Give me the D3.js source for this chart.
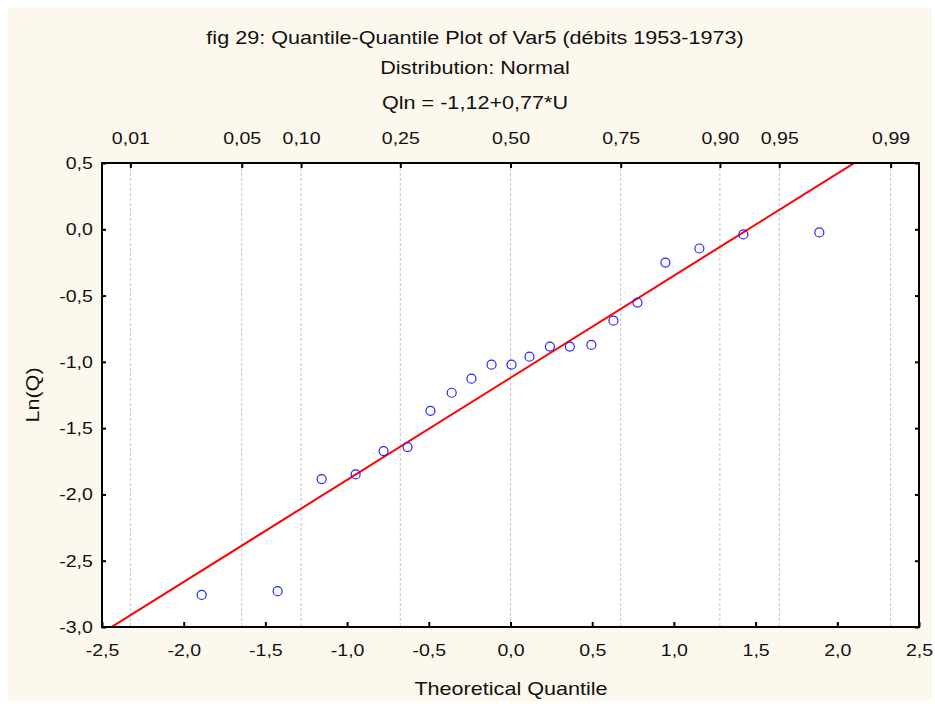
<!DOCTYPE html>
<html>
<head>
<meta charset="utf-8">
<script src="https://cdn.jsdelivr.net/npm/d3@7"></script>
<style>
	body { margin: 0; background: #fff; }
	text { font-family: Arial, "Liberation Sans", sans-serif; fill: #111; }
</style>
</head>
<body>
<div id="chart"></div>
<script>
// data
var theoretical = [-1.89, -1.425, -1.156, -0.948, -0.777, -0.63, -0.49, -0.36, -0.239, -0.116, 0.006,
	0.116, 0.241, 0.363, 0.495, 0.63, 0.777, 0.948, 1.156, 1.425, 1.89];
var lnQ = [-2.758, -2.730, -1.884, -1.849, -1.673, -1.643, -1.369, -1.233, -1.127, -1.021, -1.021,
	-0.961, -0.885, -0.885, -0.872, -0.689, -0.553, -0.251, -0.145, -0.039, -0.024];
var probTicks = [0.01, 0.05, 0.10, 0.25, 0.50, 0.75, 0.90, 0.95, 0.99];
var xTicks = [-2.5, -2.0, -1.5, -1.0, -0.5, 0.0, 0.5, 1.0, 1.5, 2.0, 2.5];
var yTicks = [0.5, 0.0, -0.5, -1.0, -1.5, -2.0, -2.5, -3.0];
var fitIntercept = -1.12, fitSlope = 0.77;

var titles = [
	'fig 29: Quantile-Quantile Plot of Var5 (débits 1953-1973)',
	'Distribution: Normal',
	'Qln = -1,12+0,77*U'
];

// inverse normal cdf (Acklam), used to place the probability ticks
function probit(p) {
	var a = [-39.6968302866538, 220.946098424521, -275.928510446969, 138.357751867269, -30.6647980661472, 2.50662827745924],
		b = [-54.4760987982241, 161.585836858041, -155.698979859887, 66.8013118877197, -13.2806815528857],
		c = [-0.00778489400243029, -0.322396458041136, -2.40075827716184, -2.54973253934373, 4.37466414146497, 2.93816398269878],
		d = [0.00778469570904146, 0.32246712907004, 2.445134137143, 3.75440866190742];
	var q, r;
	if (p < 0.02425) {
		q = Math.sqrt(-2 * Math.log(p));
		return (((((c[0] * q + c[1]) * q + c[2]) * q + c[3]) * q + c[4]) * q + c[5]) / ((((d[0] * q + d[1]) * q + d[2]) * q + d[3]) * q + 1);
	}
	if (p > 1 - 0.02425) return -probit(1 - p);
	q = p - 0.5;
	r = q * q;
	return (((((a[0] * r + a[1]) * r + a[2]) * r + a[3]) * r + a[4]) * r + a[5]) * q / (((((b[0] * r + b[1]) * r + b[2]) * r + b[3]) * r + b[4]) * r + 1);
}

var locale = d3.formatLocale({ decimal: ',', thousands: ' ', grouping: [3], currency: ['', ''], minus: '-' });
var f1 = locale.format('.1f'), f2 = locale.format('.2f');

// the reference font is wider than Arial, so stretch text horizontally
var stretch = 1.2, tickStretch = 1.15;

var W = 935, H = 704;
var margin = { top: 163, right: 16, bottom: 77, left: 102 },
	width = W - margin.left - margin.right,
	height = H - margin.top - margin.bottom;

var root = d3.select('#chart').append('svg').attr('width', W).attr('height', H);

// cream frame
root.append('rect').attr('x', 8).attr('y', 8).attr('width', 924).attr('height', 693).attr('fill', '#fdf8ee');

root.selectAll('.title')
	.data(titles)
	.enter()
	.append('text')
	.attr('transform', function(d, i) { return 'translate(475,' + [44, 74, 109][i] + ') scale(' + stretch + ',1)'; })
	.attr('text-anchor', 'middle')
	.style('font-size', '18px')
	.text(function(d) { return d; });

var svg = root.append('g').attr('transform', 'translate(' + margin.left + ',' + margin.top + ')');

var x = d3.scaleLinear().domain([-2.5, 2.5]).range([0, width]);
var y = d3.scaleLinear().domain([-3.0, 0.5]).range([height, 0]);

svg.append('rect').attr('width', width).attr('height', height).attr('fill', '#fff');

// dotted grid lines at probability positions
svg.append('g')
	.selectAll('line')
	.data(probTicks)
	.enter()
	.append('line')
	.attr('x1', function(p) { return x(probit(p)); })
	.attr('x2', function(p) { return x(probit(p)); })
	.attr('y1', 0)
	.attr('y2', height)
	.attr('stroke', '#c4c4c4')
	.attr('stroke-width', 1)
	.attr('stroke-dasharray', '3,2');

// clip for the fitted line
svg.append('clipPath').attr('id', 'plotclip').append('rect').attr('width', width).attr('height', height);

var fitLine = d3.line()
	.x(function(d) { return x(d); })
	.y(function(d) { return y(fitIntercept + fitSlope * d); });

svg.append('path')
	.datum(x.domain())
	.attr('clip-path', 'url(#plotclip)')
	.attr('fill', 'none')
	.attr('stroke', '#ff0000')
	.attr('stroke-width', 2)
	.attr('d', fitLine);

// points
svg.append('g')
	.selectAll('circle')
	.data(theoretical)
	.enter()
	.append('circle')
	.attr('cx', function(d) { return x(d); })
	.attr('cy', function(d, i) { return y(lnQ[i]); })
	.attr('r', 4.5)
	.attr('fill', 'none')
	.attr('stroke', '#2424ff')
	.attr('stroke-width', 1.2);

// axes, ticks pointing inward
var styleAxis = function(g) {
	g.select('.domain').remove();
	g.selectAll('.tick line').attr('stroke', '#000').attr('stroke-width', 2);
	g.selectAll('.tick text')
		.style('font-size', '17px')
		.attr('fill', '#111')
		.attr('transform', 'scale(' + tickStretch + ',1)');
};

svg.append('g')
	.attr('transform', 'translate(0,' + height + ')')
	.call(d3.axisBottom(x).tickValues(xTicks).tickFormat(f1).tickSizeInner(-5).tickSizeOuter(0).tickPadding(17))
	.call(styleAxis);

svg.append('g')
	.call(d3.axisLeft(y).tickValues(yTicks).tickFormat(f1).tickSizeInner(-4).tickSizeOuter(0).tickPadding(8))
	.call(styleAxis);

svg.append('g')
	.attr('transform', 'translate(' + width + ',0)')
	.call(d3.axisRight(y).tickValues(yTicks).tickFormat('').tickSizeInner(-4).tickSizeOuter(0))
	.call(styleAxis);

svg.append('g')
	.call(d3.axisTop(x).tickValues(probTicks.map(probit)).tickFormat(function(d, i) { return f2(probTicks[i]); })
		.tickSizeInner(-5).tickSizeOuter(0).tickPadding(19))
	.call(styleAxis);

// plot frame
svg.append('rect')
	.attr('width', width)
	.attr('height', height)
	.attr('fill', 'none')
	.attr('stroke', '#000')
	.attr('stroke-width', 2);

// axis labels
root.append('text')
	.attr('transform', 'translate(511,695) scale(' + stretch + ',1)')
	.attr('text-anchor', 'middle')
	.style('font-size', '18px')
	.text('Theoretical Quantile');

root.append('text')
	.attr('transform', 'translate(39,395) rotate(-90) scale(' + stretch + ',1)')
	.attr('text-anchor', 'middle')
	.style('font-size', '18px')
	.text('Ln(Q)');
</script>
</body>
</html>
